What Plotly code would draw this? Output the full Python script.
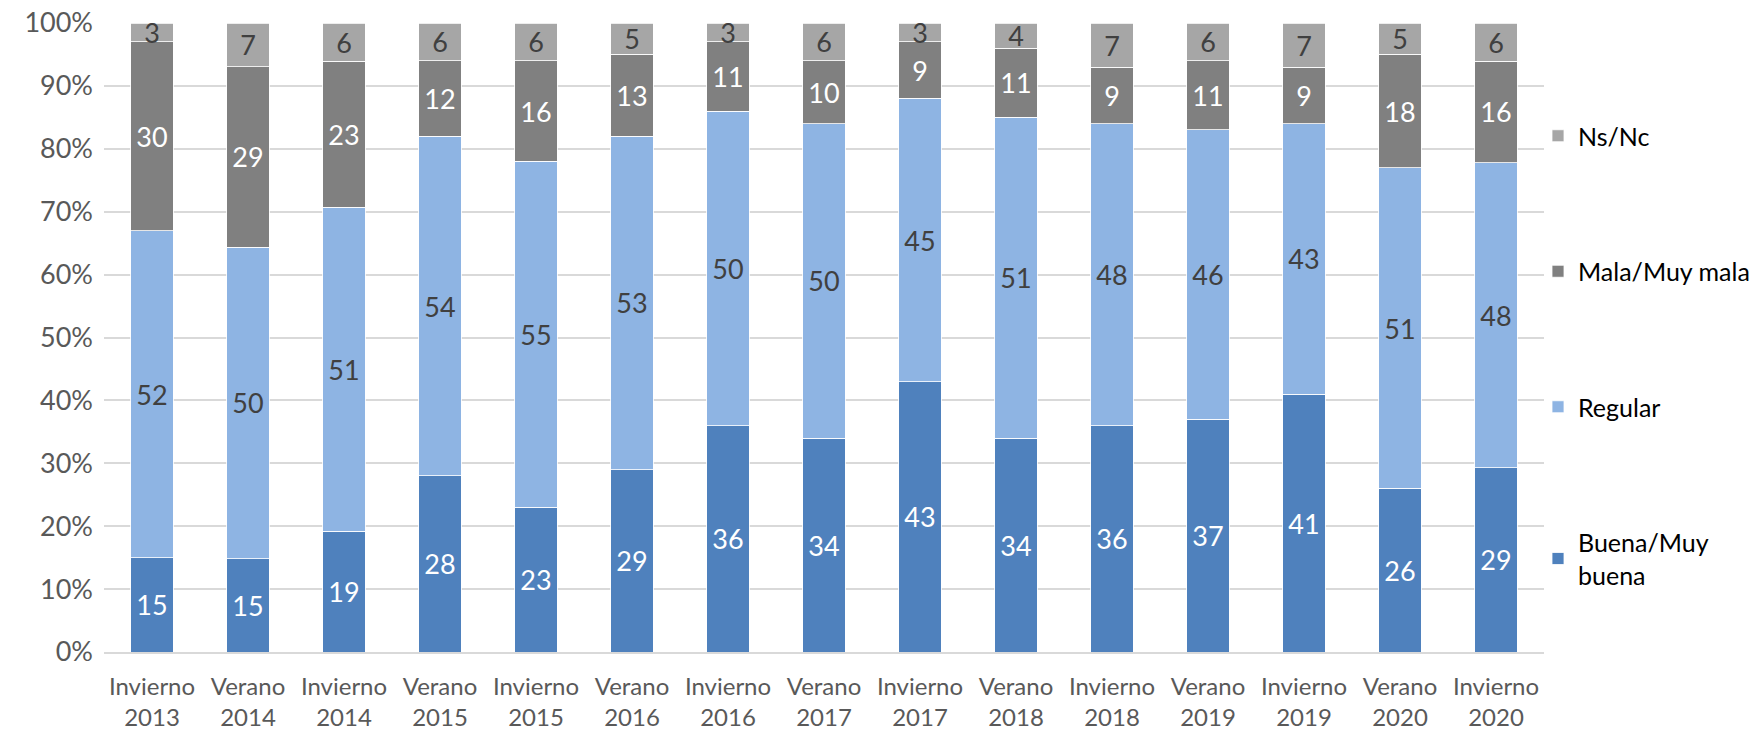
import plotly.graph_objects as go

categories = ["Invierno<br>2013", "Verano<br>2014", "Invierno<br>2014", "Verano<br>2015",
              "Invierno<br>2015", "Verano<br>2016", "Invierno<br>2016", "Verano<br>2017",
              "Invierno<br>2017", "Verano<br>2018", "Invierno<br>2018", "Verano<br>2019",
              "Invierno<br>2019", "Verano<br>2020", "Invierno<br>2020"]

buena = [15, 15, 19, 28, 23, 29, 36, 34, 43, 34, 36, 37, 41, 26, 29]
regular = [52, 50, 51, 54, 55, 53, 50, 50, 45, 51, 48, 46, 43, 51, 48]
mala = [30, 29, 23, 12, 16, 13, 11, 10, 9, 11, 9, 11, 9, 18, 16]
nsnc = [3, 7, 6, 6, 6, 5, 3, 6, 3, 4, 7, 6, 7, 5, 6]

series = [
    ("Buena/Muy<br>buena", buena, "#4F81BD", "#FFFFFF", 4),
    ("Regular", regular, "#8EB4E3", "#404040", 3),
    ("Mala/Muy mala", mala, "#808080", "#FFFFFF", 2),
    ("Ns/Nc", nsnc, "#A6A6A6", "#404040", 1),
]

FONT = "Lato"
fig = go.Figure()
for name, vals, color, tcolor, rank in series:
    fig.add_trace(go.Bar(
        x=categories, y=vals, name=name, legendgroup=name, legendrank=rank,
        marker=dict(color=color, line=dict(color="#FFFFFF", width=0.8)),
        text=[str(v) for v in vals], textposition="inside",
        insidetextanchor="middle", textangle=0,
        textfont=dict(family=FONT, size=27, color=tcolor),
        hoverinfo="skip",
    ))

fig.update_layout(
    barmode="stack", barnorm="percent", bargap=0.555,
    width=1761, height=731,
    margin=dict(l=104, r=217, t=22.5, b=78.5, autoexpand=False),
    plot_bgcolor="white", paper_bgcolor="white",
    font=dict(family=FONT, color="#595959"),
    uniformtext=dict(minsize=27, mode="show"),
    legend=dict(
        xref="container", yref="container",
        x=1538 / 1761, y=1 - 113 / 731, xanchor="left", yanchor="top",
        font=dict(family=FONT, size=25, color="#000000"),
        traceorder="grouped", tracegroupgap=100,
        bgcolor="rgba(0,0,0,0)", maxheight=720,
    ),
    yaxis=dict(
        range=[0, 100], dtick=10, ticksuffix="%",
        showgrid=True, gridcolor="#D9D9D9", gridwidth=1.5,
        zeroline=False, showline=False, automargin=False,
        tickfont=dict(family=FONT, size=27, color="#595959"),
        ticks="", ticklabelstandoff=10, ticklabeloverflow="allow",
    ),
    xaxis=dict(
        showline=True, linecolor="#D9D9D9", linewidth=1.5, automargin=False,
        tickfont=dict(family=FONT, size=24, color="#595959"),
        ticks="", ticklabelstandoff=12, ticklabeloverflow="allow",
    ),
)

fig.write_html("out.html", config={"displayModeBar": False},
               post_script="document.body.style.margin='0';document.body.style.overflow='hidden';")
